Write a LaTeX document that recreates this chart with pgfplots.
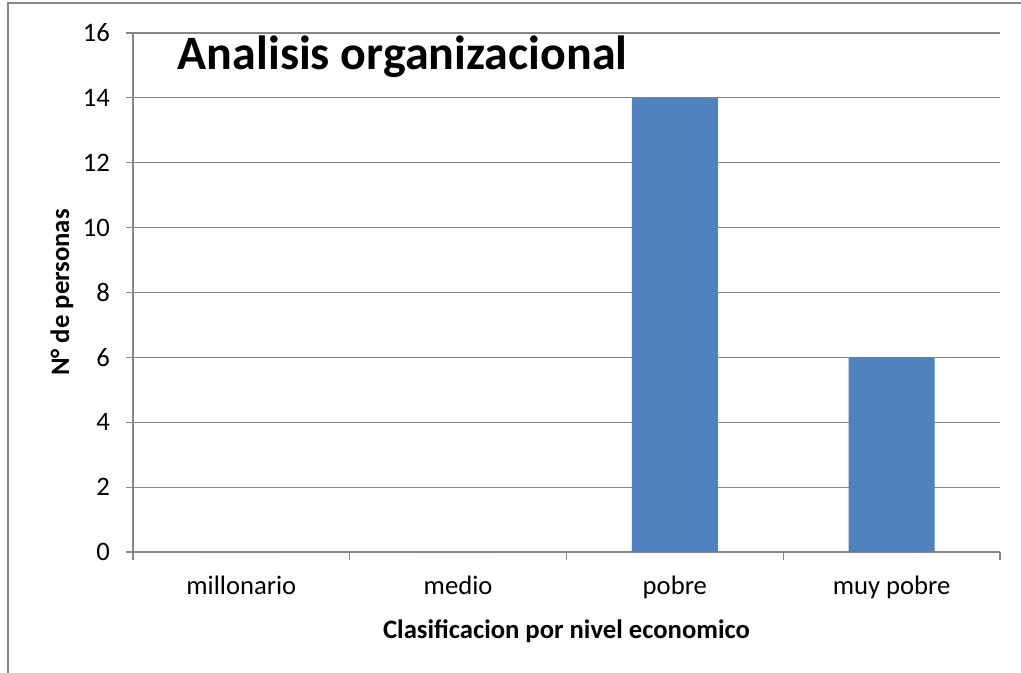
\documentclass[border=0pt]{standalone}
\usepackage{pgfplots}
\pgfplotsset{compat=1.18}
\usepackage{fontspec}
\setmainfont{Carlito}
\definecolor{barblue}{RGB}{79,129,189}
\definecolor{gridgray}{RGB}{134,134,134}
\begin{document}
\begin{tikzpicture}
\useasboundingbox (0pt,0pt) rectangle (765.75pt,504pt);
\draw[gridgray, line width=1.2pt] (6pt,501.75pt) rectangle (800pt,-30pt);
\begin{axis}[
  at={(99.75pt,90pt)}, anchor=south west,
  scale only axis,
  width=650.25pt, height=389.25pt,
  xmin=-0.5, xmax=3.5,
  ymin=0, ymax=16,
  ytick={0,2,...,16},
  xtick={0,1,2,3},
  xticklabels={millonario,medio,pobre,muy pobre},
  minor xtick={-0.5,0.5,1.5,2.5,3.5},
  major x tick style={draw=none},
  minor tick length=6pt,
  major tick length=5.25pt,
  tick align=outside,
  tick pos=lower,
  separate axis lines,
  axis x line*=bottom, axis y line*=left,
  axis line style={-, gridgray, line width=0.8pt},
  tick style={gridgray, line width=0.8pt},
  ymajorgrids,
  grid style={gridgray, line width=0.8pt},
  ybar, bar width=64.5pt,
  tick label style={font=\fontsize{20}{24}\selectfont},
  /pgf/number format/assume math mode=true,
  xticklabel style={yshift=-9pt},
  yticklabel style={xshift=-8.5pt},
  xlabel={\textbf{Clasificacion por nivel economico}},
  ylabel={\textbf{N° de personas}},
  xlabel style={font=\fontsize{20}{24}\selectfont, at={(axis description cs:0.5,-0.152)}, anchor=center},
  ylabel style={font=\fontsize{20}{24}\selectfont, at={(axis description cs:-0.082,0.5)}, anchor=center},
  clip=false,
]
\addplot[fill=barblue, draw=none] coordinates {(0,0) (1,0) (2,14) (3,6)};
\node[font=\fontsize{36}{40}\selectfont\bfseries, anchor=center] at (axis description cs:0.311,0.954) {Analisis organizacional};
\end{axis}
\end{tikzpicture}
\end{document}
